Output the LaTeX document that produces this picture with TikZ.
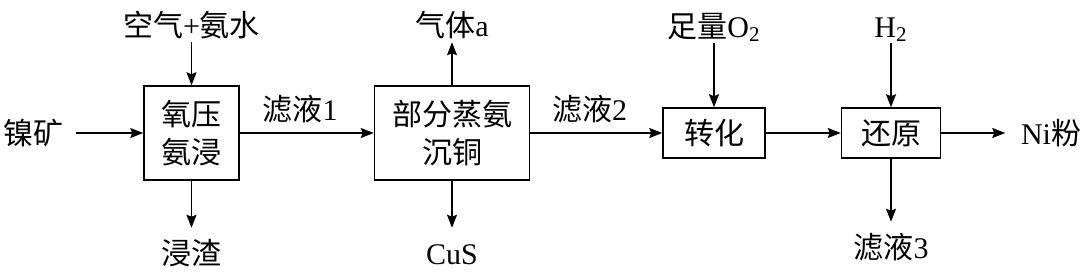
\documentclass[tikz,border=0pt]{standalone}
\usepackage{fontspec}
\setmainfont{Liberation Serif}
\newfontfamily\cjk{Noto Sans CJK SC}
\usetikzlibrary{positioning, arrows.meta}

\begin{document}
\begin{tikzpicture}[>={Stealth[length=6.5pt, width=5pt, inset=1pt]},
    x=0.5pt, y=-0.5pt, line width=0.8pt,
    b/.style={draw, line width=0.75pt, align=center, inner sep=0pt,
              font=\fontsize{15}{19}\selectfont\cjk},
    lbl/.style={inner sep=1.5pt, text height=12.5pt, text depth=1pt,
                font=\fontsize{15}{18}\selectfont},
    prod/.style={lbl, inner ysep=5.5pt},
    side/.style={lbl, inner xsep=6pt}]
  \useasboundingbox (0,0) rectangle (1080,272);
  % process boxes
  \node[b, minimum width=47.5pt, minimum height=47pt] (leach) at (191.5,133) {氧压\\氨浸};
  \node[b, minimum width=77.5pt, minimum height=47pt] (sep) [right=67pt of leach] {部分蒸氨\\沉铜};
  \node[b, minimum width=51pt, minimum height=25pt] (conv) [right=66pt of sep] {转化};
  \node[b, minimum width=49.5pt, minimum height=25pt] (red) [right=37.5pt of conv] {还原};
  % feeds and products
  \node[side] (ore) [left=33.5pt of leach] {\cjk 镍矿};
  \node[lbl] (air) [above=21.5pt of leach] {{\cjk 空气}+{\cjk 氨水}};
  \node[prod] (slag) [below=23.5pt of leach] {\cjk 浸渣};
  \node[lbl] (gas) [above=21.5pt of sep] {{\cjk 气体}a};
  \node[prod] (cus) [below=23.5pt of sep] {CuS};
  \node[lbl] (oxy) [above=32pt of conv] {{\cjk 足量}O\textsubscript{2}};
  \node[lbl] (hyd) [above=32pt of red] {H\textsubscript{2}};
  \node[prod] (fil3) [below=31.5pt of red] {{\cjk 滤液}3};
  \node[side, inner xsep=7.5pt] (ni) [right=32pt of red] {Ni{\cjk 粉}};
  % flows
  \draw[->] (ore) -- (leach);
  \draw[->] (air) -- (leach);
  \draw[->] (leach) -- (slag);
  \draw[->] (leach) -- node[lbl, pos=0.45, above=3.5pt] (fil1) {{\cjk 滤液}1} (sep);
  \draw[->] (sep) -- (gas);
  \draw[->] (sep) -- (cus);
  \draw[->] (sep) -- node[lbl, pos=0.45, above=3.5pt] (fil2) {{\cjk 滤液}2} (conv);
  \draw[->] (oxy) -- (conv);
  \draw[->] (conv) -- (red);
  \draw[->] (hyd) -- (red);
  \draw[->] (red) -- (fil3);
  \draw[->] (red) -- (ni);
\end{tikzpicture}
\end{document}
